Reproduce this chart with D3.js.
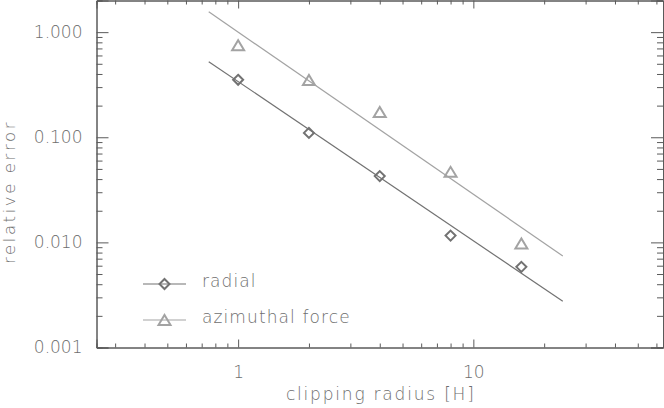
<!DOCTYPE html>
<html>
<head>
<meta charset="utf-8">
<script src="https://cdn.jsdelivr.net/npm/d3@7"></script>
<style>
  html, body { margin: 0; padding: 0; background: #fff; }
  svg { display: block; }
  text { font-family: "DejaVu Sans", sans-serif; font-weight: 200; fill: #6e6e6e; }
</style>
</head>
<body>
<svg id="chart" width="664" height="408"></svg>
<script>
// ---- data ----
const clipRadius = [1, 2, 4, 8, 16];
const radialErr = [0.352, 0.110, 0.0427, 0.0116, 0.00585];
const azimuthalErr = [0.750, 0.351, 0.174, 0.0469, 0.00975];
const fitX = [0.75, 24];
const radialFit = [0.524, 0.00275];
const azimuthalFit = [1.56, 0.00742];
const xMajorTicks = [1, 10];
const xMinorTicks = [0.3, 0.4, 0.5, 0.6, 0.7, 0.8, 0.9, 2, 3, 4, 5, 6, 7, 8, 9, 20, 30, 40, 50, 60];
const yMajorTicks = [0.001, 0.01, 0.1, 1];
const yMinorTicks = [0.002,0.003,0.004,0.005,0.006,0.007,0.008,0.009,
                     0.02,0.03,0.04,0.05,0.06,0.07,0.08,0.09,
                     0.2,0.3,0.4,0.5,0.6,0.7,0.8,0.9,2];
const yTickLabels = ["0.001", "0.010", "0.100", "1.000"];
const xTickLabels = ["1", "10"];
const seriesNames = ["radial", "azimuthal force"];

// ---- layout ----
const svg = d3.select("#chart");
const L = 96.5, R = 663, T = 0.5, B = 347.5;
const x = d3.scaleLog().domain([0.25, 64]).range([L, R]);
const y = d3.scaleLog().domain([0.001, 2]).range([B, T]);
const axisColor = "#5a5a5a";
const radialColor = "#727272";
const azColor = "#a3a3a3";

function styleAxis(g) {
  g.select(".domain").attr("stroke", axisColor).attr("stroke-width", 1);
  g.selectAll(".tick line").attr("stroke", axisColor).attr("stroke-width", 1);
  g.selectAll("text").attr("font-size", 17).attr("fill", "#6e6e6e")
    .attr("font-family", "DejaVu Sans, sans-serif").attr("font-weight", 200);
}

// bottom axis
svg.append("g").attr("transform", `translate(0,${B})`)
  .call(d3.axisBottom(x).tickValues(xMinorTicks).tickSize(-4).tickFormat(""))
  .call(styleAxis);
svg.append("g").attr("transform", `translate(0,${B})`)
  .call(d3.axisBottom(x).tickValues(xMajorTicks).tickSize(-8).tickPadding(18)
        .tickFormat((d, i) => xTickLabels[i]))
  .call(styleAxis);
// top axis
svg.append("g").attr("transform", `translate(0,${T})`)
  .call(d3.axisTop(x).tickValues(xMinorTicks).tickSize(-4).tickFormat(""))
  .call(styleAxis);
svg.append("g").attr("transform", `translate(0,${T})`)
  .call(d3.axisTop(x).tickValues(xMajorTicks).tickSize(-8).tickFormat(""))
  .call(styleAxis);
// left axis
svg.append("g").attr("transform", `translate(${L},0)`)
  .call(d3.axisLeft(y).tickValues(yMinorTicks).tickSize(-6).tickFormat(""))
  .call(styleAxis);
svg.append("g").attr("transform", `translate(${L},0)`)
  .call(d3.axisLeft(y).tickValues(yMajorTicks).tickSize(-12).tickPadding(14)
        .tickFormat((d, i) => yTickLabels[i]))
  .call(styleAxis);
// right axis
svg.append("g").attr("transform", `translate(${R},0)`)
  .call(d3.axisRight(y).tickValues(yMinorTicks).tickSize(-6).tickFormat(""))
  .call(styleAxis);
svg.append("g").attr("transform", `translate(${R},0)`)
  .call(d3.axisRight(y).tickValues(yMajorTicks).tickSize(-12).tickFormat(""))
  .call(styleAxis);

// axis titles
svg.append("text").attr("x", (L + R) / 2 + 1).attr("y", 400)
  .attr("text-anchor", "middle").attr("font-size", 17).attr("letter-spacing", 1.8)
  .text("clipping radius [H]");
svg.append("text").attr("transform", "translate(15,192) rotate(-90)")
  .attr("text-anchor", "middle").attr("font-size", 16.5).attr("letter-spacing", 2.6)
  .text("relative error");

// fit lines
const line = d3.line().x(d => x(d[0])).y(d => y(d[1]));
svg.append("path").datum(fitX.map((v, i) => [v, azimuthalFit[i]]))
  .attr("d", line).attr("fill", "none").attr("stroke", azColor).attr("stroke-width", 1.2);
svg.append("path").datum(fitX.map((v, i) => [v, radialFit[i]]))
  .attr("d", line).attr("fill", "none").attr("stroke", radialColor).attr("stroke-width", 1.2);

// markers
const diamond = "M0,-5L5,0L0,5L-5,0Z";
const triangle = "M-6,5L0,-5L6,5Z";
svg.append("g").selectAll("path").data(clipRadius).join("path")
  .attr("transform", (d, i) => `translate(${x(d)},${y(radialErr[i])})`)
  .attr("d", diamond).attr("fill", "none").attr("stroke", radialColor).attr("stroke-width", 2);
svg.append("g").selectAll("path").data(clipRadius).join("path")
  .attr("transform", (d, i) => `translate(${x(d)},${y(azimuthalErr[i])})`)
  .attr("d", triangle).attr("fill", "none").attr("stroke", azColor).attr("stroke-width", 2);

// legend
const legend = [
  { name: seriesNames[0], color: radialColor, sym: diamond, y: 284 },
  { name: seriesNames[1], color: azColor, sym: triangle, y: 320 }
];
legend.forEach(l => {
  svg.append("line").attr("x1", 143).attr("x2", 186).attr("y1", l.y).attr("y2", l.y)
    .attr("stroke", l.color).attr("stroke-width", 1.2);
  svg.append("path").attr("transform", `translate(164.5,${l.y})`).attr("d", l.sym)
    .attr("fill", "none").attr("stroke", l.color).attr("stroke-width", 2);
  svg.append("text").attr("x", 202).attr("y", l.y + 3).attr("font-size", 17)
    .attr("letter-spacing", 1.1).text(l.name);
});
</script>
</body>
</html>
